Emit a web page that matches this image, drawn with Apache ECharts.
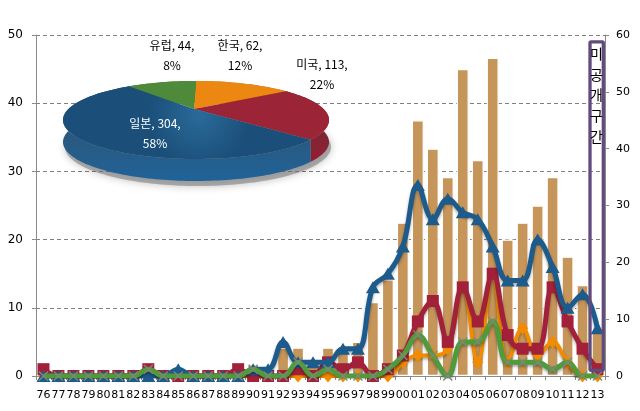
<!DOCTYPE html>
<html><head><meta charset="utf-8">
<script src="https://cdn.jsdelivr.net/npm/echarts@6/dist/echarts.min.js"></script>
<style>html,body{margin:0;padding:0;background:#fff}#c{width:640px;height:411px}</style>
</head><body><div id="c"></div>
<script>
// ---- data ----
const years = ['76','77','78','79','80','81','82','83','84','85','86','87','88','89','90','91','92','93','94','95','96','97','98','99','00','01','02','03','04','05','06','07','08','09','10','11','12','13'];
const totals = [1,0,0,0,0,0,0,2,0,1,0,0,0,1,2,1,5,5,2,5,5,6,13,17,27,45,40,35,54,38,56,24,27,30,35,21,16,8];
const japan  = [0,0,0,0,0,0,0,0,0,1,0,0,0,0,1,1,5,2,2,2,4,4,13,15,19,28,23,26,24,23,19,14,14,20,16,10,12,7];
const usa    = [1,0,0,0,0,0,0,1,0,0,0,0,0,1,0,0,0,1,0,2,1,2,0,1,3,8,11,5,13,8,15,6,4,4,13,8,4,1];
const korea  = [0,0,0,0,0,0,0,0,0,0,0,0,0,0,0,0,0,0,0,0,0,0,0,0,2,3,3,4,13,2,15,2,7,3,5,2,0,0];
const europe = [0,0,0,0,0,0,0,1,0,0,0,0,0,0,1,0,0,2,0,1,0,0,0,1,3,6,3,0,5,5,8,2,2,2,1,2,0,0];
const pieNames  = ['한국','미국','일본','유럽'];
const pieValues = [62,113,304,44];
const leftTicks = {min:0, max:50, interval:10};
const rightTicks = {min:0, max:60, interval:10};
const noteText = '미공개구간';
const noteYear = '13';

// ---- styles ----
const topColors  = ['#ec8812','#9b2437','#1f5d8c','#4f8a3b'];
const sideColors = ['#b8650b','#6e1624','#184a72','#3a6a2b'];
const labelPos = [[240,55],[322,74],[155,133],[172,55]];
const labelColors = ['#000','#000','#fff','#000'];
const PIE = {cx:196, cy:120, rx:133, ry:39, depth:22, apexDx:-2, apexDy:-11};
const pieTotal = pieValues.reduce((a,b)=>a+b,0);

const chart = echarts.init(document.getElementById('c'));
const axisFont = 'DejaVu Sans';
const lineShadow = {shadowColor:'rgba(0,0,0,0.35)', shadowBlur:3, shadowOffsetY:2};

function lineSeries(name, data, color, symbol, size, width, z, symColor){
  return {
    name, type:'line', yAxisIndex:0, data, smooth:0.4, showAllSymbol:true, z,
    symbol, symbolSize:size,
    lineStyle:Object.assign({color, width}, lineShadow),
    itemStyle:{color: symColor||color, borderWidth:0},
    emphasis:{disabled:true}, animation:false
  };
}

function arcPts(a0, a1, dy){
  const pts = [];
  const n = Math.max(4, Math.ceil((a1-a0)/0.03));
  for (let k=0;k<=n;k++){
    const a = a0 + (a1-a0)*k/n;
    pts.push([PIE.cx + PIE.rx*Math.cos(a), PIE.cy + dy + PIE.ry*Math.sin(a)]);
  }
  return pts;
}

function renderPie(params, api){
  const i = params.dataIndex;
  let before = 0;
  for (let k=0;k<i;k++) before += pieValues[k];
  const a0 = -Math.PI/2 + before/pieTotal*2*Math.PI;
  const a1 = a0 + pieValues[i]/pieTotal*2*Math.PI;
  const children = [];
  if (i === 0){
    children.push({type:'polygon', shape:{points:arcPts(0, 2*Math.PI, PIE.depth+5).map(p=>[p[0]+2,p[1]])},
      style:{fill:'rgba(120,120,120,0.55)', shadowBlur:8, shadowColor:'rgba(0,0,0,0.45)'}, z2:0});
  }
  const top = arcPts(a0, a1, 0);
  const bot = arcPts(a0, a1, PIE.depth).reverse();
  children.push({type:'polygon', shape:{points:top.concat(bot)},
    style:{fill:{type:'linear', x:0, y:0, x2:0, y2:1, colorStops:[
      {offset:0, color:echarts.color.lift(sideColors[i], 0.0)},
      {offset:0.5, color:echarts.color.lift(sideColors[i], 0.08)},
      {offset:1, color:echarts.color.lift(sideColors[i], -0.35)}]}}, z2:10});
  let fill = topColors[i];
  if (i === 2){
    fill = {type:'radial', x:0.55, y:0.4, r:0.7, colorStops:[{offset:0,color:'#2a6a9a'},{offset:1,color:'#1b4f79'}]};
  }
  const apex = [PIE.cx+PIE.apexDx, PIE.cy+PIE.apexDy];
  children.push({type:'polygon', shape:{points:[apex].concat(top)}, style:{fill}, z2:60});
  const pct = Math.round(pieValues[i]/pieTotal*100);
  children.push({type:'text', x:labelPos[i][0], y:labelPos[i][1], z2:80,
    style:{text: pieNames[i]+', '+pieValues[i]+',\n'+pct+'%', fill:labelColors[i],
      font:'12px "Noto Sans CJK KR"', align:'center', verticalAlign:'middle', lineHeight:20}});
  return {type:'group', children};
}

chart.setOption({
  animation:false,
  backgroundColor:'#fff',
  grid:{left:36, right:35, top:35, bottom:35, containLabel:false},
  xAxis:{type:'category', data:years, boundaryGap:true,
    axisLine:{lineStyle:{color:'#8a8a8a', width:1}},
    axisTick:{show:true, length:4, lineStyle:{color:'#8a8a8a'}},
    axisLabel:{interval:0, color:'#000', fontSize:11, fontFamily:axisFont, margin:14},
    splitLine:{show:false}},
  yAxis:[
    {type:'value', position:'left', min:leftTicks.min, max:leftTicks.max, interval:leftTicks.interval,
      axisLine:{show:true, lineStyle:{color:'#8a8a8a'}},
      axisTick:{show:true, length:4, lineStyle:{color:'#8a8a8a'}},
      axisLabel:{color:'#000', fontSize:12, fontFamily:axisFont, margin:13},
      splitLine:{show:true, lineStyle:{color:'#808080', type:[4,3], width:1}}},
    {type:'value', position:'right', min:rightTicks.min, max:rightTicks.max, interval:rightTicks.interval,
      axisLine:{show:true, lineStyle:{color:'#8a8a8a'}},
      axisTick:{show:true, length:4, lineStyle:{color:'#8a8a8a'}},
      axisLabel:{color:'#000', fontSize:11, fontFamily:axisFont, margin:11},
      splitLine:{show:false}}
  ],
  series:[
    {name:'합계', type:'bar', yAxisIndex:1, data:totals, barWidth:12, z:1,
      itemStyle:{color:'#c6955a', borderColor:'#ffffff', borderWidth:1.2}, emphasis:{disabled:true}},
    lineSeries('한국', korea, '#f18b00', 'diamond', [11,13], 4, 2),
    lineSeries('미국', usa, '#a3203a', 'rect', 12, 5, 3),
    lineSeries('일본', japan, '#1d5b8c', 'triangle', [14,12], 5, 4),
    lineSeries('유럽', europe, '#4f9a3b', 'path://M0,1L1,0L5,4L9,0L10,1L6,5L10,9L9,10L5,6L1,10L0,9L4,5Z', 10, 5, 5, '#7d8a74'),
    {type:'custom', coordinateSystem:'none', silent:true, z:6,
      data: pieValues.map((v,i)=>[i,v]), renderItem: renderPie}
  ]
});

// annotation box for the unpublished period
const xc = chart.convertToPixel({xAxisIndex:0}, noteYear);
const yTop = chart.convertToPixel({yAxisIndex:1}, 58.8);
const yBot = chart.convertToPixel({yAxisIndex:1}, 1.0);
chart.setOption({graphic:[
  {type:'rect', x:xc-7.5, y:yTop, shape:{x:0, y:0, width:13.3, height:yBot-yTop, r:1},
    style:{fill:'none', stroke:'#604b7c', lineWidth:3.3}, z:20},
  {type:'text', x:xc-1, y:yTop+1.5, z:21,
    style:{text: noteText.split('').join('\n'), fill:'#000', font:'14px "Noto Sans CJK KR"',
      align:'center', verticalAlign:'top', lineHeight:20.7}}
]});
</script>
</body></html>
